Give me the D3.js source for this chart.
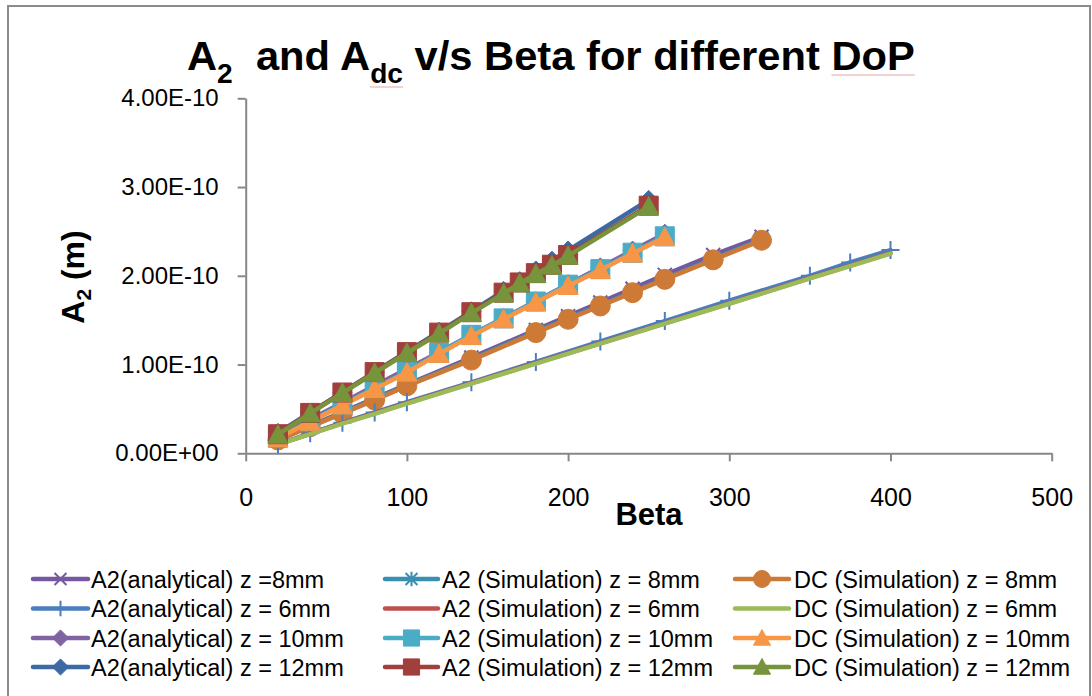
<!DOCTYPE html>
<html>
<head>
<meta charset="utf-8">
<script src="https://cdn.jsdelivr.net/npm/d3@7"></script>
<style>
  html, body { margin: 0; padding: 0; background: #fff; }
  svg { display: block; }
  text { font-family: "Liberation Sans", Arial, sans-serif; fill: #000; }
</style>
</head>
<body>
<svg id="chart" width="1092" height="696"></svg>
<script>
// ---------------- DATA ----------------
const xTicks = [0, 100, 200, 300, 400, 500];
const yTicks = [0, 1e-10, 2e-10, 3e-10, 4e-10];

const beta8  = [20, 40, 60, 80, 100, 140, 180, 200, 220, 240, 260, 290, 320];
const analytical8 = [0.155e-10, 0.31e-10, 0.465e-10, 0.62e-10, 0.775e-10, 1.08e-10, 1.39e-10, 1.545e-10, 1.70e-10, 1.855e-10, 2.01e-10, 2.235e-10, 2.44e-10];
const sim8        = [0.15e-10, 0.30e-10, 0.455e-10, 0.605e-10, 0.765e-10, 1.06e-10, 1.37e-10, 1.52e-10, 1.67e-10, 1.82e-10, 1.97e-10, 2.19e-10, 2.41e-10];
const dc8         = [0.15e-10, 0.30e-10, 0.45e-10, 0.60e-10, 0.76e-10, 1.05e-10, 1.36e-10, 1.51e-10, 1.66e-10, 1.81e-10, 1.96e-10, 2.18e-10, 2.40e-10];

const beta6  = [20, 40, 60, 80, 100, 140, 180, 220, 260, 300, 350, 375, 400];
const analytical6 = [0.10e-10, 0.225e-10, 0.345e-10, 0.46e-10, 0.575e-10, 0.80e-10, 1.03e-10, 1.26e-10, 1.49e-10, 1.72e-10, 2.00e-10, 2.15e-10, 2.29e-10];
const sim6        = [0.10e-10, 0.22e-10, 0.34e-10, 0.45e-10, 0.565e-10, 0.79e-10, 1.015e-10, 1.24e-10, 1.465e-10, 1.69e-10, 1.975e-10, 2.115e-10, 2.255e-10];
const dc6         = [0.10e-10, 0.215e-10, 0.335e-10, 0.445e-10, 0.56e-10, 0.785e-10, 1.01e-10, 1.235e-10, 1.46e-10, 1.685e-10, 1.97e-10, 2.11e-10, 2.25e-10];

const beta10 = [20, 40, 60, 80, 100, 120, 140, 160, 180, 200, 220, 240, 260];
const analytical10 = [0.19e-10, 0.38e-10, 0.57e-10, 0.76e-10, 0.95e-10, 1.14e-10, 1.335e-10, 1.525e-10, 1.715e-10, 1.905e-10, 2.095e-10, 2.285e-10, 2.475e-10];
const sim10        = [0.175e-10, 0.365e-10, 0.55e-10, 0.735e-10, 0.92e-10, 1.13e-10, 1.335e-10, 1.52e-10, 1.71e-10, 1.90e-10, 2.075e-10, 2.26e-10, 2.445e-10];
const dc10         = [0.17e-10, 0.355e-10, 0.54e-10, 0.725e-10, 0.91e-10, 1.12e-10, 1.32e-10, 1.51e-10, 1.70e-10, 1.885e-10, 2.065e-10, 2.25e-10, 2.435e-10];

const beta12 = [20, 40, 60, 80, 100, 120, 140, 160, 170, 180, 190, 200, 250];
const analytical12 = [0.23e-10, 0.46e-10, 0.685e-10, 0.915e-10, 1.145e-10, 1.37e-10, 1.60e-10, 1.83e-10, 1.94e-10, 2.06e-10, 2.17e-10, 2.285e-10, 2.855e-10];
const sim12        = [0.215e-10, 0.455e-10, 0.685e-10, 0.915e-10, 1.14e-10, 1.36e-10, 1.59e-10, 1.81e-10, 1.925e-10, 2.03e-10, 2.125e-10, 2.235e-10, 2.79e-10];
const dc12         = [0.21e-10, 0.45e-10, 0.68e-10, 0.905e-10, 1.13e-10, 1.35e-10, 1.58e-10, 1.80e-10, 1.915e-10, 2.02e-10, 2.115e-10, 2.225e-10, 2.78e-10];

const seriesNames = [
  "A2(analytical) z =8mm", "A2 (Simulation) z = 8mm", "DC (Simulation) z = 8mm",
  "A2(analytical) z = 6mm", "A2 (Simulation) z = 6mm", "DC (Simulation) z = 6mm",
  "A2(analytical) z = 10mm", "A2 (Simulation) z = 10mm", "DC (Simulation) z = 10mm",
  "A2(analytical) z = 12mm", "A2 (Simulation) z = 12mm", "DC (Simulation) z = 12mm"
];
const seriesX = [beta8, beta8, beta8, beta6, beta6, beta6, beta10, beta10, beta10, beta12, beta12, beta12];
const seriesY = [analytical8, sim8, dc8, analytical6, sim6, dc6, analytical10, sim10, dc10, analytical12, sim12, dc12];

// ---------------- STYLE ----------------
const seriesColors = ["#7558A0", "#3A8FB0", "#CD7A37", "#4A7EBF", "#C0504D", "#9BBB59",
                      "#8064A2", "#4BACC6", "#F79646", "#3E6AA3", "#A03F3C", "#77933C"];
const seriesMarkers = ["x", "star", "circle", "plus", "none", "none",
                       "diamond", "square", "triangle", "diamond", "square", "triangle"];

const W = 1092, H = 696;
const svg = d3.select("#chart");
svg.append("rect").attr("x", 0).attr("y", 0).attr("width", W).attr("height", H).attr("fill", "#fff");
// chart border
svg.append("rect").attr("x", 8).attr("y", 6).attr("width", 1082).attr("height", 700)
  .attr("fill", "none").attr("stroke", "#8c8c8c").attr("stroke-width", 2);

const x = d3.scaleLinear().domain([0, 500]).range([245.7, 1051.7]);
const y = d3.scaleLinear().domain([0, 4e-10]).range([453.3, 98.3]);

const fmtY = d => d === 0 ? "0.00E+00" : (d / 1e-10).toFixed(2) + "E-10";

// axes
const gy = svg.append("g").attr("transform", `translate(${x(0)},0)`)
  .call(d3.axisLeft(y).tickValues(yTicks).tickFormat(fmtY).tickSize(8).tickSizeOuter(0).tickPadding(19));
const gx = svg.append("g").attr("transform", `translate(0,${y(0)})`)
  .call(d3.axisBottom(x).tickValues(xTicks).tickFormat(d3.format("d")).tickSize(8).tickSizeOuter(0).tickPadding(27));
[gy, gx].forEach(g => {
  g.selectAll("path.domain").attr("stroke", "#878787").attr("stroke-width", 2);
  g.selectAll(".tick line").attr("stroke", "#878787").attr("stroke-width", 2);
  g.selectAll(".tick text").attr("font-size", 24).attr("font-family", "Liberation Sans, Arial, sans-serif").attr("fill", "#000");
});
gx.selectAll(".tick text").attr("font-size", 25);

// marker paths
function markerPath(type, s) {
  switch (type) {
    case "diamond": return `M0,${-s}L${s},0L0,${s}L${-s},0Z`;
    case "square": return `M${-s},${-s}H${s}V${s}H${-s}Z`;
    case "triangle": return `M0,${-s}L${s},${s * 0.85}L${-s},${s * 0.85}Z`;
    case "circle": return `M${-s},0A${s},${s} 0 1,0 ${s},0A${s},${s} 0 1,0 ${-s},0Z`;
    case "x": return `M${-s},${-s}L${s},${s}M${-s},${s}L${s},${-s}`;
    case "star": return `M${-s},${-s}L${s},${s}M${-s},${s}L${s},${-s}M0,${-s * 1.2}L0,${s * 1.2}`;
    case "plus": return `M${-s},0L${s},0M0,${-s}L0,${s}`;
  }
  return "";
}
const markerSize = { diamond: 9.5, square: 9.5, triangle: 10, circle: 10, x: 7, star: 7, plus: 9 };
const filled = t => ["diamond", "square", "triangle", "circle"].includes(t);

function drawMarker(g, type, color, cx, cy, scale) {
  if (type === "none") return;
  const s = markerSize[type] * scale;
  g.append("path").attr("d", markerPath(type, s))
    .attr("transform", `translate(${cx},${cy})`)
    .attr("fill", filled(type) ? color : "none")
    .attr("stroke", color)
    .attr("stroke-width", filled(type) ? 1 : 2);
}

const line = d3.line().x(d => x(d[0])).y(d => y(d[1]));
const plot = svg.append("g");
seriesNames.forEach((name, i) => {
  const pts = seriesX[i].map((b, j) => [b, seriesY[i][j]]);
  const g = plot.append("g");
  g.append("path").datum(pts).attr("d", line)
    .attr("fill", "none").attr("stroke", seriesColors[i]).attr("stroke-width", 4.5)
    .attr("stroke-linejoin", "round").attr("stroke-linecap", "round");
  pts.forEach(p => drawMarker(g, seriesMarkers[i], seriesColors[i], x(p[0]), y(p[1]), 1));
});

// title
const tg = svg.append("g");
const title = tg.append("text").attr("x", 0).attr("y", 70).attr("font-weight", "bold").attr("font-size", 40);
title.append("tspan").text("A");
title.append("tspan").attr("font-size", 27).attr("dy", 13).text("2");
title.append("tspan").attr("dy", -13).text("\u00a0 and A");
const dcSpan = title.append("tspan").attr("font-size", 27).attr("dy", 13).text("dc");
title.append("tspan").attr("dy", -13).text(" v/s Beta for different ");
const dopSpan = title.append("tspan").text("DoP");
const tb = title.node().getBBox();
const sx = 728 / tb.width;
tg.attr("transform", `translate(187,0) scale(${sx},1) translate(${-tb.x},0)`);
// faint spell-check underlines seen in the reference
[[dcSpan, 87], [dopSpan, 75]].forEach(([sp, uy]) => {
  const b = sp.node().getBBox();
  tg.append("line").attr("x1", b.x).attr("x2", b.x + b.width).attr("y1", uy).attr("y2", uy)
    .attr("stroke", "#e6a3a3").attr("stroke-width", 1.2);
});

// y axis label
const yl = svg.append("text").attr("transform", "translate(84,277) rotate(-90)")
  .attr("text-anchor", "middle").attr("font-weight", "bold").attr("font-size", 32);
yl.append("tspan").text("A");
yl.append("tspan").attr("font-size", 21).attr("dy", 7).text("2");
yl.append("tspan").attr("dy", -7).text(" (m)");

// x axis label
svg.append("text").attr("x", 649).attr("y", 525).attr("text-anchor", "middle")
  .attr("font-weight", "bold").attr("font-size", 31).text("Beta");

// legend
const colLine = [[33, 88], [385, 438], [735, 789]];
const colText = [91, 442, 794];
const rowY = [579, 608.5, 638, 667];
seriesNames.forEach((name, i) => {
  const c = i % 3, r = Math.floor(i / 3);
  const g = svg.append("g");
  g.append("line").attr("x1", colLine[c][0]).attr("x2", colLine[c][1])
    .attr("y1", rowY[r]).attr("y2", rowY[r])
    .attr("stroke", seriesColors[i]).attr("stroke-width", 4.5).attr("stroke-linecap", "round");
  drawMarker(g, seriesMarkers[i], seriesColors[i], (colLine[c][0] + colLine[c][1]) / 2, rowY[r], 0.85);
  g.append("text").attr("x", colText[c]).attr("y", rowY[r] + 8.5).attr("font-size", 23.5).text(name);
});
</script>
</body>
</html>
